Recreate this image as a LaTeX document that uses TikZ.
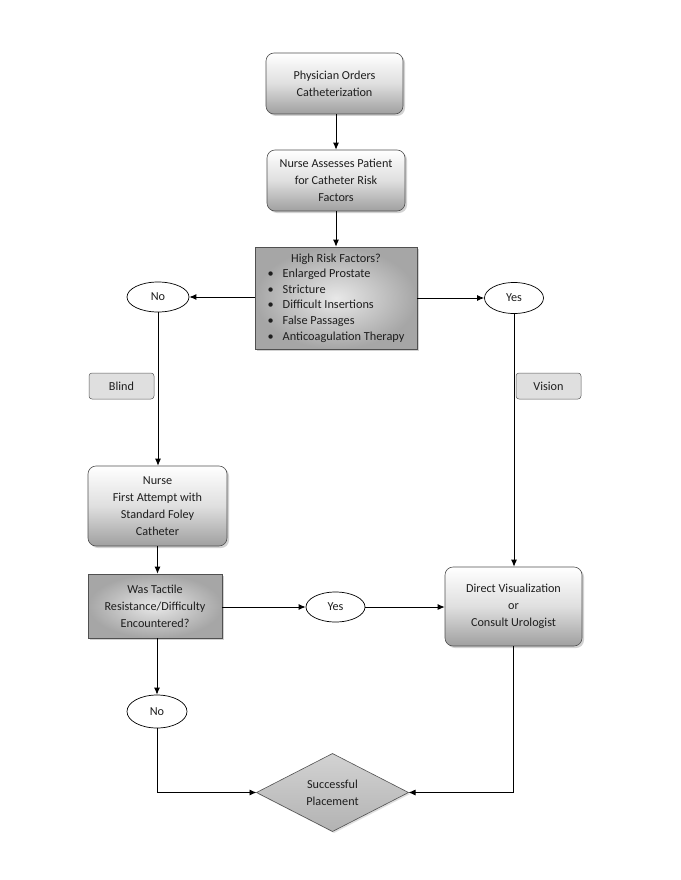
\documentclass[tikz,border=0pt]{standalone}
\usepackage{fontspec}
\setmainfont{Carlito}
\usetikzlibrary{shapes.geometric,arrows.meta,shadows,calc}
\definecolor{txt}{HTML}{1E1E1E}
\definecolor{edge}{HTML}{505050}
\begin{document}
\begin{tikzpicture}[x=1pt,y=-1pt,
  font=\fontsize{12.2}{17}\selectfont, text=txt,
  every node/.style={inner sep=2pt},
  rbox/.style={draw=edge, line width=0.6pt, rounded corners=8pt, align=center,
    top color=white, bottom color=gray!75, middle color=gray!25,
    drop shadow={opacity=0.35, shadow xshift=2pt, shadow yshift=-2pt}},
  sbox/.style={draw=edge, line width=0.6pt, align=center,
    inner color=gray!18, outer color=gray!70,
    drop shadow={opacity=0.35, shadow xshift=2pt, shadow yshift=-2pt}},
  oval/.style={ellipse, draw=black, line width=0.7pt, fill=white, inner sep=0pt},
  tag/.style={draw=gray!70!black, fill=gray!25, rounded corners=3pt, line width=0.5pt,
    minimum width=65pt, minimum height=26pt, inner sep=0pt},
  conn/.style={line width=0.9pt, draw=black, -{Latex[length=7pt,width=6pt]}}]
\useasboundingbox (0,0) rectangle (680,880);
\fill[white] (0,0) rectangle (680,880);

\node[rbox, minimum width=137pt, minimum height=61pt] (b1) at (334.5,83.5)
  {Physician Orders\\Catheterization};
\node[rbox, minimum width=138pt, minimum height=61pt] (b2) at (336,180.5)
  {Nurse Assesses Patient\\for Catheter Risk\\Factors};
\node[sbox, minimum width=162pt, minimum height=102pt, inner sep=0pt] (b3) at (336,298)
  {\fontsize{12.3}{15.6}\selectfont\begin{tabular}{@{}l@{\hspace{9pt}}l@{}}
   \multicolumn{2}{c}{High Risk Factors?}\\
   \textbullet & Enlarged Prostate\\
   \textbullet & Stricture\\
   \textbullet & Difficult Insertions\\
   \textbullet & False Passages\\
   \textbullet & Anticoagulation Therapy
  \end{tabular}};

\node[oval, minimum width=62pt, minimum height=30pt] (no1) at (158,297) {No};
\node[oval, minimum width=59pt, minimum height=31pt] (yes1) at (514,298) {Yes};

\node[tag] (blind) at (121.5,386) {Blind};
\node[tag] (vision) at (548.5,386) {Vision};

\node[rbox, minimum width=139pt, minimum height=80pt] (b4) at (157.5,506)
  {Nurse\\First Attempt with\\Standard Foley\\Catheter};
\node[sbox, minimum width=134pt, minimum height=64pt] (b5) at (155,606)
  {Was Tactile\\Resistance/Difficulty\\Encountered?};
\node[oval, minimum width=59pt, minimum height=30pt] (yes2) at (335.5,607) {Yes};
\node[rbox, minimum width=137pt, minimum height=79pt] (b6) at (513.5,606.5)
  {Direct Visualization\\or\\Consult Urologist};
\node[oval, minimum width=60pt, minimum height=33pt] (no2) at (157,711.5) {No};
\node[diamond, draw=edge, line width=0.6pt, inner sep=0pt, outer sep=0pt, align=center,
  minimum width=152pt, minimum height=72pt,
  top color=gray!35, bottom color=gray!60,
  drop shadow={opacity=0.25, shadow xshift=1.5pt, shadow yshift=-1.5pt}] (dia) at (332.5,792.5)
  {Successful\\Placement};

\draw[conn] (b1.south -| 336,0) -- (b2.north -| 336,0);
\draw[conn] (b2.south -| 336,0) -- (b3.north -| 336,0);
\draw[conn] (b3.west |- no1.east) -- (no1.east);
\draw[conn] (b3.east |- yes1.west) -- (yes1.west);
\draw[conn] (no1.south) -- (no1.south |- b4.north);
\draw[conn] (yes1.south) -- (yes1.south |- b6.north);
\draw[conn] (b4.south) -- (b4.south |- b5.north);
\draw[conn] (b5.east |- yes2.west) -- (yes2.west);
\draw[conn] (yes2.east) -- (yes2.east -| b6.west);
\draw[conn] (b5.south -| no2.north) -- (no2.north);
\draw[conn] (no2.south) |- (dia.west);
\draw[conn] (b6.south) |- (dia.east);
\end{tikzpicture}
\end{document}
